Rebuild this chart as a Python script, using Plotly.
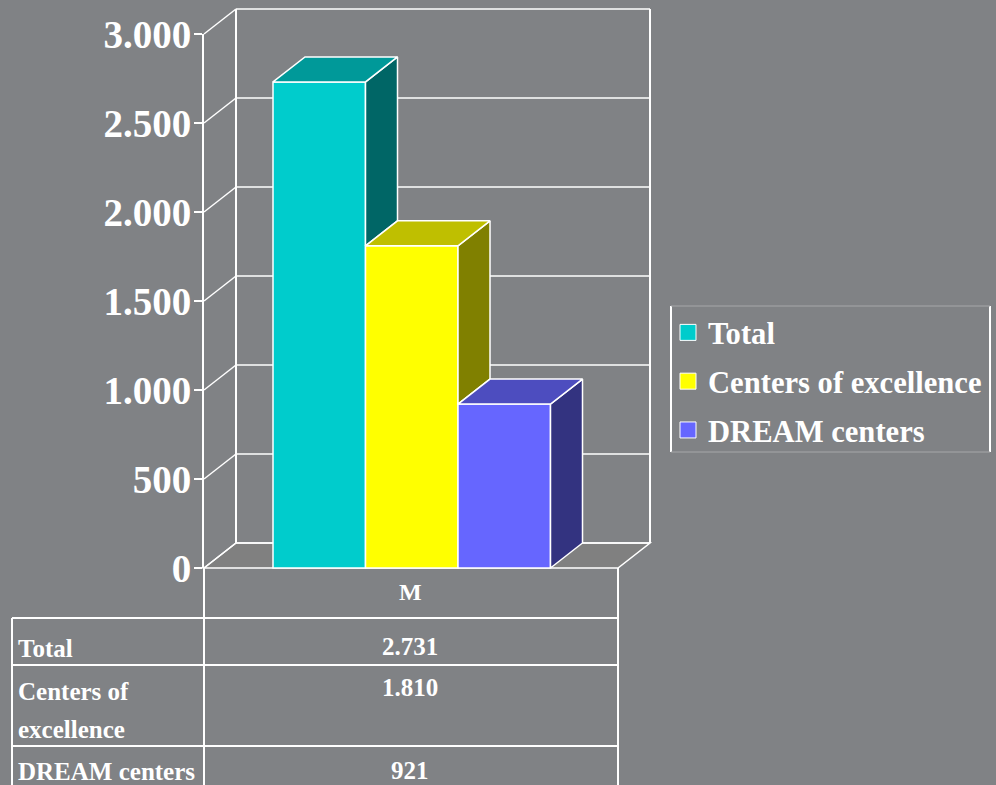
import plotly.graph_objects as go

# ---- data ----
series_names = ["Total", "Centers of excellence", "DREAM centers"]
series_values = [2731, 1810, 921]
category = "M"
tick_values = [0, 500, 1000, 1500, 2000, 2500, 3000]
tick_labels = ["0", "500", "1.000", "1.500", "2.000", "2.500", "3.000"]
table_labels = ["2.731", "1.810", "921"]

front_colors = ["#00CCCC", "#FFFF00", "#6666FF"]
top_colors = ["#009999", "#BFBF00", "#4D4DBF"]
side_colors = ["#006666", "#808000", "#333380"]

# ---- layout constants (pixels) ----
W, H = 996, 785
BG = "#808285"
FONT = "Liberation Serif"
Y0_PX, Y3000_PX = 568, 34
LEFT, RIGHT = 204, 618
DX, DY = 32, 25
BAR_LEFT, BAR_W = 273, 92.5
PX_PER_UNIT = (Y0_PX - Y3000_PX) / 3000
DZ = DY / PX_PER_UNIT
WHITE = "#FFFFFF"

fig = go.Figure()

# front faces (library bars)
for i, (n, v) in enumerate(zip(series_names, series_values)):
    fig.add_trace(go.Bar(
        x=[BAR_LEFT + BAR_W * (i + 0.5)], y=[v], width=[BAR_W], name=n,
        marker=dict(color=front_colors[i], line=dict(color=WHITE, width=1.5)),
        showlegend=False, hovertemplate=f"{n}: {table_labels[i]}<extra></extra>",
    ))

# 3D faces derived from the same values
for i, v in enumerate(series_values):
    x0 = BAR_LEFT + BAR_W * i
    x1 = x0 + BAR_W
    below = series_values[i + 1] if i + 1 < len(series_values) else 0
    fig.add_trace(go.Scatter(
        x=[x1, x1 + DX, x1 + DX, x1, x1], y=[v, v + DZ, below + DZ, below, v],
        mode="lines", fill="toself", fillcolor=side_colors[i],
        line=dict(color=WHITE, width=1.5), showlegend=False, hoverinfo="skip"))
    fig.add_trace(go.Scatter(
        x=[x0, x0 + DX, x1 + DX, x1, x0], y=[v, v + DZ, v + DZ, v, v],
        mode="lines", fill="toself", fillcolor=top_colors[i],
        line=dict(color=WHITE, width=1.5), showlegend=False, hoverinfo="skip"))

# legend keys
for i, n in enumerate(series_names):
    fig.add_trace(go.Scatter(
        x=[None], y=[None], mode="markers", name=n, legendgroup=n,
        marker=dict(symbol="square", size=16, color=front_colors[i], line=dict(color=WHITE, width=1)),
        hoverinfo="skip"))

# value axis on its own subplot
fig.add_trace(go.Scatter(x=[0], y=[0], xaxis="x2", yaxis="y2", mode="markers",
                         marker=dict(opacity=0), showlegend=False, hoverinfo="skip"))

shapes = []
def data_line(x0, y0, x1, y1, w=1.5):
    shapes.append(dict(type="line", xref="x", yref="y", x0=x0, y0=y0, x1=x1, y1=y1,
                       layer="below", line=dict(color=WHITE, width=w)))

# floor
shapes.append(dict(type="path", xref="x", yref="y", layer="below", fillcolor="#808080",
                   path=f"M{LEFT},0 L{LEFT+DX},{DZ} L{RIGHT+DX},{DZ} L{RIGHT},0 Z",
                   line=dict(color=WHITE, width=1.5)))
# walls and gridlines
for t in tick_values:
    data_line(LEFT, t, LEFT + DX, t + DZ)
    data_line(LEFT + DX, t + DZ, RIGHT + DX, t + DZ)
data_line(LEFT + DX, DZ, LEFT + DX, 3000 + DZ, 2)
data_line(RIGHT + DX, DZ, RIGHT + DX, 3000 + DZ, 2)

def px_line(x0, y0, x1, y1, w=2, c=WHITE):
    shapes.append(dict(type="line", xref="paper", yref="paper",
                       x0=x0 / W, x1=x1 / W, y0=1 - y0 / H, y1=1 - y1 / H,
                       line=dict(color=c, width=w)))

# table grid
px_line(LEFT, Y0_PX, LEFT, H)
px_line(RIGHT, Y0_PX, RIGHT, H)
px_line(12, 618, 12, H)
px_line(12, 618, RIGHT, 618)
px_line(12, 665, RIGHT, 665)
px_line(12, 746, RIGHT, 746)

# legend frame
px_line(671, 306, 671, 452)
px_line(990, 306, 990, 452)
px_line(671, 306, 990, 306, 1, "#A6A7A9")
px_line(671, 452, 990, 452, 1, "#A6A7A9")

def text(x, y, s, size=25, anchor="left"):
    return dict(x=x / W, y=1 - y / H, xref="paper", yref="paper", text=f"<b>{s}</b>", showarrow=False,
                xanchor=anchor, yanchor="middle", font=dict(family=FONT, size=size, color=WHITE))

annotations = [
    text(410, 592, category, 24, "center"),
    text(16, 648, series_names[0]),
    text(16, 691, "Centers of"),
    text(16, 729, "excellence"),
    text(16, 771, series_names[2]),
    text(410, 646, table_labels[0], 25, "center"),
    text(410, 687, table_labels[1], 25, "center"),
    text(410, 770, table_labels[2], 25, "center"),
]

fig.update_layout(
    width=W, height=H, autosize=False,
    margin=dict(l=0, r=0, t=0, b=0, autoexpand=False),
    paper_bgcolor=BG, plot_bgcolor="rgba(0,0,0,0)",
    barmode="overlay",
    shapes=shapes, annotations=annotations,
    xaxis=dict(range=[0, W], visible=False, domain=[0, 1], fixedrange=True),
    yaxis=dict(range=[(Y0_PX - H) / PX_PER_UNIT, Y0_PX / PX_PER_UNIT], visible=False,
               domain=[0, 1], fixedrange=True),
    xaxis2=dict(domain=[LEFT / W, RIGHT / W], visible=False, anchor="y2", range=[0, 1]),
    yaxis2=dict(domain=[1 - Y0_PX / H, 1 - Y3000_PX / H], anchor="x2", range=[0, 3000],
                tickvals=tick_values, ticktext=[f"<b>{t}</b>" for t in tick_labels],
                ticks="outside", ticklen=8, tickwidth=1.5, tickcolor=WHITE,
                showline=True, linecolor=WHITE, linewidth=2, showgrid=False, zeroline=False,
                tickfont=dict(family=FONT, size=39, color=WHITE), ticklabelstandoff=-5),
    legend=dict(x=668 / W, xanchor="left", y=1 - 306 / H, yanchor="top",
                bgcolor="rgba(0,0,0,0)", borderwidth=0, tracegroupgap=6,
                font=dict(family=FONT, size=30.6, color=WHITE, weight="bold"),
                itemclick=False, itemdoubleclick=False),
    showlegend=True,
)

fig.write_html(
    "out.html",
    config={"displayModeBar": False},
    post_script="document.documentElement.style.background='#808285';"
                "document.body.style.margin='0';document.body.style.overflow='hidden';"
                "window.dispatchEvent(new Event('resize'));",
)
